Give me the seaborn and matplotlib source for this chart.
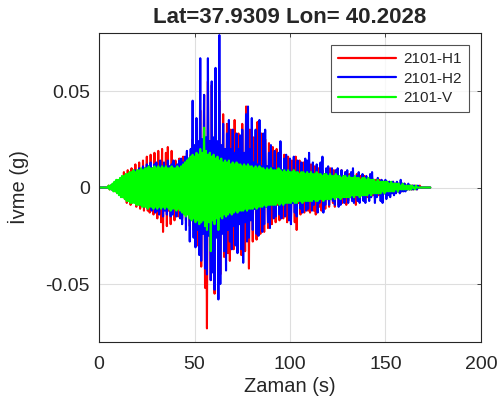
import numpy as np
import pandas as pd
import seaborn as sns
import matplotlib
matplotlib.use("Agg")
import matplotlib.pyplot as plt
from matplotlib.ticker import FuncFormatter

# peak values, in milli-g, one per second (t = 0..173)
# upper peaks at t, lower peaks at t + 0.5
h1_up = [0, 0, 0, 0, 0, 1, 1, 1, 2, 2,
         3, 4, 5, 8, 4, 9, 5, 10, 6, 12,
         7, 13, 8, 14, 9, 16, 10, 17, 9, 18,
         10, 19, 11, 20, 10, 18, 21, 11, 19, 10,
         14, 9, 15, 10, 16, 11, 18, 12, 17, 25,
         18, 31, 20, 40, 22, 48, 22, 55, 24, 53,
         22, 50, 20, 45, 20, 38, 18, 33, 18, 30,
         13, 35, 14, 28, 12, 33, 15, 42, 13, 30,
         12, 26, 11, 34, 12, 28, 10, 25, 11, 23,
         10, 21, 9, 20, 10, 19, 8, 17, 9, 16,
         8, 14, 9, 16, 8, 14, 7, 13, 8, 12,
         7, 12, 6, 11, 7, 10, 6, 9, 7, 8,
         6, 10, 5, 9, 6, 8, 5, 9, 5, 8,
         5, 7, 4, 8, 5, 7, 4, 6, 4, 6,
         4, 5, 3, 5, 3, 4, 3, 4, 3, 3,
         3, 2, 3, 2, 3, 2, 2, 2, 2, 1,
         2, 1, 1, 1, 1, 1, 1, 0, 1, 0,
         0, 0, 0, 0]
h1_low = [0, 0, 0, 0, 0, 1, 1, 1, 2, 2,
          3, 4, 5, 6, 8, 5, 9, 6, 7, 10,
          6, 11, 7, 12, 8, 12, 13, 8, 14, 9,
          16, 10, 18, 23, 11, 20, 12, 19, 10, 17,
          10, 15, 11, 16, 12, 17, 13, 20, 14, 22,
          15, 30, 20, 41, 22, 52, 73, 24, 48, 22,
          55, 22, 38, 45, 20, 36, 18, 34, 38, 17,
          32, 13, 30, 12, 35, 13, 33, 14, 42, 12,
          28, 11, 27, 10, 24, 11, 23, 10, 21, 10,
          19, 9, 18, 9, 17, 8, 16, 8, 18, 8,
          16, 8, 18, 22, 8, 14, 7, 13, 8, 12,
          13, 7, 12, 14, 7, 10, 12, 6, 11, 6,
          10, 6, 8, 10, 5, 9, 5, 8, 5, 9,
          7, 5, 6, 7, 9, 4, 6, 4, 6, 4,
          5, 4, 5, 4, 4, 3, 4, 3, 3, 3,
          3, 2, 3, 2, 2, 2, 2, 1, 2, 1,
          1, 1, 1, 1, 1, 0, 1, 0, 0, 0,
          0, 0, 0, 0]
h2_up = [0, 0, 0, 0, 0, 0, 1, 1, 1, 2,
         2, 3, 4, 5, 5, 6, 7, 6, 8, 9,
         8, 10, 9, 11, 10, 12, 11, 13, 10, 12,
         13, 10, 14, 11, 13, 10, 14, 11, 12, 14,
         11, 12, 14, 15, 13, 16, 19, 15, 20, 45,
         22, 36, 24, 67, 25, 48, 26, 67, 24, 55,
         26, 62, 24, 79, 22, 33, 20, 28, 35, 20,
         30, 18, 28, 20, 27, 30, 18, 38, 42, 20,
         36, 13, 30, 12, 35, 11, 28, 30, 11, 18,
         22, 10, 19, 9, 18, 24, 9, 15, 17, 8,
         15, 8, 16, 8, 14, 7, 13, 8, 15, 14,
         18, 7, 13, 7, 12, 7, 13, 16, 6, 10,
         11, 6, 10, 6, 9, 10, 5, 9, 5, 8,
         9, 5, 8, 10, 5, 6, 8, 4, 7, 4,
         6, 4, 7, 8, 4, 3, 5, 3, 4, 3,
         4, 3, 3, 2, 3, 2, 3, 2, 4, 2,
         2, 1, 2, 1, 1, 1, 0, 1, 0, 0,
         0, 0, 0, 0]
h2_low = [0, 0, 0, 0, 0, 0, 1, 1, 1, 2,
          2, 3, 4, 4, 5, 6, 5, 7, 6, 8,
          7, 9, 8, 10, 6, 11, 7, 12, 8, 13,
          12, 14, 9, 15, 12, 14, 9, 15, 14, 9,
          15, 10, 16, 19, 11, 22, 12, 28, 13, 26,
          31, 22, 35, 38, 24, 42, 45, 25, 48, 44,
          53, 26, 58, 50, 24, 33, 43, 22, 28, 32,
          20, 30, 34, 19, 32, 39, 18, 28, 26, 17,
          22, 11, 24, 25, 10, 23, 19, 10, 18, 21,
          9, 16, 15, 8, 14, 16, 8, 15, 8, 17,
          19, 8, 13, 15, 7, 11, 13, 7, 12, 11,
          6, 12, 9, 6, 13, 8, 6, 13, 9, 6,
          9, 5, 7, 9, 5, 10, 9, 5, 8, 5,
          8, 4, 7, 8, 4, 7, 8, 4, 7, 8,
          4, 7, 5, 3, 8, 5, 3, 7, 8, 3,
          6, 4, 5, 3, 4, 3, 2, 3, 2, 2,
          2, 1, 1, 1, 1, 0, 1, 0, 0, 0,
          0, 0, 0, 0]
v_up = [0, 0, 0, 0, 0, 1, 1, 2, 3, 4,
        4, 5, 6, 6, 7, 7, 8, 8, 9, 8,
        9, 9, 10, 9, 10, 10, 11, 10, 10, 11,
        10, 11, 10, 11, 10, 11, 10, 10, 11, 10,
        10, 11, 10, 11, 12, 13, 14, 15, 16, 17,
        16, 18, 17, 20, 18, 31, 19, 17, 18, 16,
        17, 15, 16, 14, 15, 13, 14, 13, 14, 12,
        13, 12, 13, 12, 12, 11, 12, 11, 12, 11,
        11, 10, 11, 10, 11, 10, 10, 9, 10, 9,
        10, 9, 9, 9, 10, 9, 8, 9, 8, 9,
        8, 8, 9, 8, 8, 7, 8, 8, 7, 8,
        7, 8, 7, 7, 8, 7, 7, 6, 7, 7,
        6, 7, 6, 6, 7, 6, 6, 5, 6, 6,
        5, 6, 5, 5, 6, 5, 5, 4, 5, 5,
        4, 5, 4, 4, 4, 3, 4, 3, 3, 3,
        3, 3, 2, 3, 2, 2, 2, 2, 1, 2,
        1, 1, 1, 1, 1, 0, 1, 0, 0, 0,
        0, 0, 0, 0]
v_low = [0, 0, 0, 0, 0, 1, 1, 2, 2, 3,
         4, 5, 5, 6, 7, 7, 8, 8, 8, 9,
         9, 9, 10, 10, 10, 11, 10, 10, 11, 10,
         11, 10, 11, 10, 11, 10, 11, 12, 11, 11,
         12, 11, 12, 13, 14, 15, 14, 16, 17, 16,
         18, 17, 19, 18, 17, 20, 22, 18, 33, 17,
         19, 16, 22, 15, 16, 14, 15, 14, 13, 14,
         13, 12, 13, 12, 12, 12, 11, 12, 11, 11,
         11, 10, 11, 10, 10, 10, 9, 10, 9, 9,
         9, 9, 9, 8, 9, 8, 9, 8, 8, 8,
         8, 7, 8, 8, 7, 7, 8, 7, 7, 7,
         7, 7, 6, 7, 7, 6, 6, 7, 6, 6,
         6, 6, 5, 6, 5, 5, 6, 5, 5, 5,
         5, 5, 4, 5, 4, 4, 5, 4, 4, 4,
         4, 3, 4, 3, 3, 3, 3, 3, 2, 3,
         2, 2, 2, 2, 2, 1, 2, 1, 1, 1,
         1, 1, 1, 1, 0, 1, 0, 0, 0, 0,
         0, 0, 0, 0]

labels = ["2101-H1", "2101-H2", "2101-V"]
colors = ["#ff0000", "#0000ff", "#00ff00"]


def zigzag(up, low):
    # interleave upper and lower peaks into one trace, values in g
    t = np.arange(len(up), dtype=float)
    tt = np.empty(2 * len(up))
    yy = np.empty(2 * len(up))
    tt[0::2] = t
    tt[1::2] = t + 0.5
    yy[0::2] = np.array(up) / 1000.0
    yy[1::2] = -np.array(low) / 1000.0
    return tt, yy


sns.set_theme(style="white")
plt.rcParams['font.family'] = ['Liberation Sans', 'DejaVu Sans']
plt.rcParams['axes.unicode_minus'] = False

fig = plt.figure(figsize=(5.03, 4.09), dpi=100)
ax = fig.add_axes([0.197, 0.164, 0.759, 0.755])

for (up, low), lab, col in zip([(h1_up, h1_low), (h2_up, h2_low), (v_up, v_low)], labels, colors):
    tt, yy = zigzag(up, low)
    sns.lineplot(x=tt, y=yy, ax=ax, color=col, linewidth=1.5, label=lab,
                 estimator=None, sort=False)

ax.set_xlim(0, 200)
ax.set_ylim(-0.08, 0.08)
ax.set_xticks([0, 50, 100, 150, 200])
ax.set_yticks([-0.05, 0, 0.05])
ax.yaxis.set_major_formatter(FuncFormatter(lambda v, p: "0" if abs(v) < 1e-9 else f"{v:.2f}"))
ax.grid(True, color="#dedede", linewidth=0.8)
ax.tick_params(direction="in", length=3, top=True, right=True, labelsize=14,
               colors="#262626", width=0.6)
ax.tick_params(axis="x", pad=10)
ax.tick_params(axis="y", pad=6.5)
for s in ax.spines.values():
    s.set_color("#262626")
    s.set_linewidth(0.8)

ax.set_title("Lat=37.9309 Lon= 40.2028", fontsize=16, fontweight="bold", pad=7)
ax.set_xlabel("Zaman (s)", fontsize=14.5, color="#262626", labelpad=3)
ax.set_ylabel("İvme (g)", fontsize=14.5, color="#262626", labelpad=12)

leg = ax.legend(loc="upper right", fontsize=11, frameon=True, fancybox=False,
                edgecolor="#262626", borderaxespad=0.8, handlelength=3.8,
                labelspacing=0.35, borderpad=0.45, handletextpad=0.5)
leg.get_frame().set_linewidth(0.8)
for line in leg.get_lines():
    line.set_linewidth(1.6)

fig.savefig("out.png", dpi=100)
